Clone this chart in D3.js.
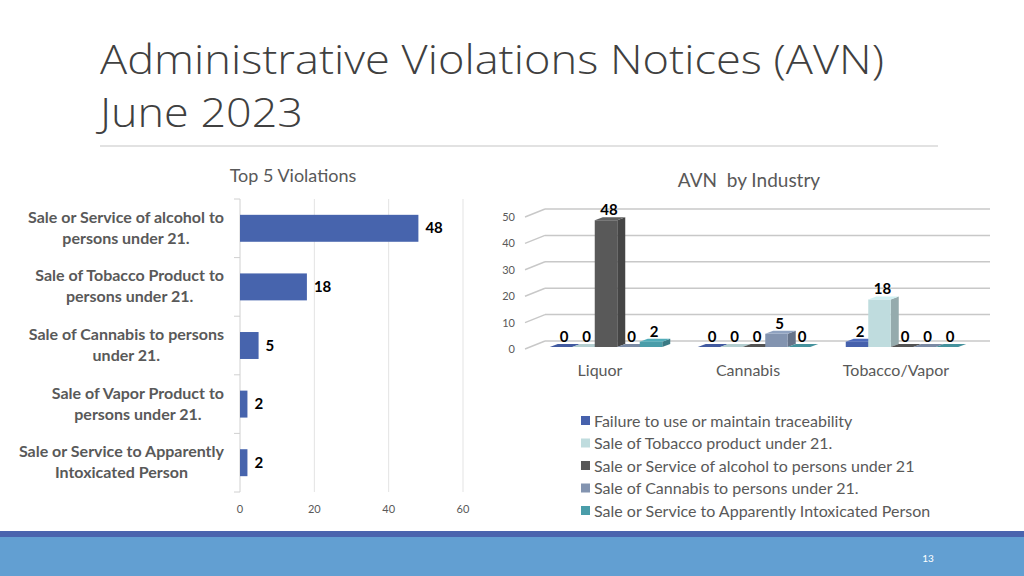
<!DOCTYPE html>
<html><head><meta charset="utf-8">
<script src="https://cdn.jsdelivr.net/npm/d3@7"></script>
<style>
html,body{margin:0;padding:0;background:#fff;}
svg{display:block;}
text{font-family:Lato,"Open Sans",sans-serif;}
.ttl{font-family:"Open Sans",sans-serif;font-variant-ligatures:none;}
</style></head>
<body>
<svg id="c" width="1024" height="576"></svg>
<script>
// ---------- data ----------
const titleLines = ["Administrative Violations Notices (AVN)", "June 2023"];
const pageNumber = "13";

const topTitle = "Top 5 Violations";
const topCategories = [
  ["Sale or Service of alcohol to", "persons under 21."],
  ["Sale of Tobacco Product to", "persons under 21."],
  ["Sale of Cannabis to persons", "under 21."],
  ["Sale of Vapor Product to", "persons under 21."],
  ["Sale or Service to Apparently", "Intoxicated Person"]
];
const topValues = [48, 18, 5, 2, 2];
const topTicks = [0, 20, 40, 60];

const indTitle = "AVN  by Industry";
const industries = ["Liquor", "Cannabis", "Tobacco/Vapor"];
const seriesNames = [
  "Failure to use or maintain traceability",
  "Sale of Tobacco product under 21.",
  "Sale or Service of alcohol to persons under 21",
  "Sale of Cannabis to persons under 21.",
  "Sale or Service to Apparently Intoxicated Person"
];
const seriesValues = [
  [0, 0, 2],
  [0, 0, 18],
  [48, 0, 0],
  [0, 5, 0],
  [2, 0, 0]
];
const indTicks = [0, 10, 20, 30, 40, 50];
const seriesColors = ["#4661AC", "#BFDCDE", "#595959", "#8394B0", "#4A9DA9"];

// ---------- drawing ----------
const svg = d3.select("#c");
const grey = "#595959";

// title
svg.append("text").attr("class", "ttl").attr("x", 100).attr("y", 74)
  .attr("font-weight", 300)
  .attr("font-size", 41).attr("fill", "#404040")
  .attr("textLength", 784).attr("lengthAdjust", "spacingAndGlyphs")
  .text(titleLines[0]);
svg.append("text").attr("class", "ttl").attr("x", 100).attr("y", 127)
  .attr("font-weight", 300)
  .attr("font-size", 41).attr("fill", "#404040")
  .attr("textLength", 203).attr("lengthAdjust", "spacingAndGlyphs")
  .text(titleLines[1]);
svg.append("line").attr("x1", 100).attr("x2", 938).attr("y1", 146).attr("y2", 146)
  .attr("stroke", "#D9D9D9").attr("stroke-width", 1.5);

// bottom band
svg.append("rect").attr("x", 0).attr("y", 537).attr("width", 1024).attr("height", 39).attr("fill", "#629FD2");
svg.append("rect").attr("x", 0).attr("y", 531).attr("width", 1024).attr("height", 6).attr("fill", "#4A64AE");
svg.append("text").attr("x", 928).attr("y", 562).attr("text-anchor", "middle")
  .attr("font-size", 10).attr("fill", "#fff").text(pageNumber);

// ---------- left chart ----------
const L = svg.append("g");
L.append("text").attr("x", 293).attr("y", 182).attr("text-anchor", "middle")
  .attr("font-size", 18).attr("fill", grey).text(topTitle);

const xL = d3.scaleLinear().domain([0, 60]).range([240, 463]);
const yL = d3.scaleBand().domain(d3.range(topValues.length)).range([199, 492])
  .paddingInner(0.54).paddingOuter(0.27);

// gridlines
L.selectAll("line.grid").data(topTicks.slice(1)).join("line")
  .attr("x1", d => xL(d)).attr("x2", d => xL(d)).attr("y1", 199).attr("y2", 492)
  .attr("stroke", "#E3E3E3").attr("stroke-width", 1);
// axis line + category ticks
const stepL = yL.step();
L.append("line").attr("x1", 240).attr("x2", 240).attr("y1", 199).attr("y2", 492)
  .attr("stroke", "#D0D0D0").attr("stroke-width", 1);
L.selectAll("line.ct").data(d3.range(topValues.length + 1)).join("line")
  .attr("x1", 234).attr("x2", 240)
  .attr("y1", i => 199 + i * stepL).attr("y2", i => 199 + i * stepL)
  .attr("stroke", "#D0D0D0").attr("stroke-width", 1);

// bars
L.selectAll("rect.bar").data(topValues).join("rect")
  .attr("x", xL(0)).attr("y", (d, i) => yL(i))
  .attr("width", d => xL(d) - xL(0)).attr("height", yL.bandwidth())
  .attr("fill", "#4764AD");
// value labels
L.selectAll("text.val").data(topValues).join("text")
  .attr("x", d => xL(d) + 7).attr("y", (d, i) => yL(i) + yL.bandwidth() / 2 + 5)
  .attr("font-size", 15).attr("font-weight", 700).attr("fill", "#000").text(d => d);
// x tick labels
L.selectAll("text.tick").data(topTicks).join("text")
  .attr("x", d => xL(d)).attr("y", 513).attr("text-anchor", "middle")
  .attr("font-size", 11).attr("fill", grey).text(d => d);
// category labels (centered block, longest line right-aligned to x=224)
topCategories.forEach((lines, i) => {
  const g = L.append("g");
  const cy = yL(i) + yL.bandwidth() / 2;
  const ts = lines.map((s, k) => g.append("text")
    .attr("y", cy + (k === 0 ? -10.5 : 10.5) + 5)
    .attr("font-size", 16).attr("font-weight", 700).attr("fill", grey)
    .attr("text-anchor", "middle").text(s));
  const w = d3.max(ts, t => t.node().getComputedTextLength());
  ts.forEach(t => t.attr("x", 224 - w / 2));
});

// ---------- right chart (3D columns) ----------
const R = svg.append("g");
R.append("text").attr("x", 749).attr("y", 187).attr("text-anchor", "middle")
  .style("white-space", "pre")
  .attr("font-size", 19).attr("fill", grey).text(indTitle);

const yBack = d3.scaleLinear().domain([0, 50]).range([341, 209]);
const wallX0 = 545, wallX1 = 990, floorDX = 20, floorDY = 8;
// grid: back wall horizontals + side-wall diagonals
indTicks.forEach(t => {
  const y = yBack(t);
  R.append("line").attr("x1", wallX0).attr("x2", wallX1).attr("y1", y).attr("y2", y)
    .attr("stroke", "#C8C8C8").attr("stroke-width", 1.5);
  R.append("line").attr("x1", wallX0 - floorDX).attr("x2", wallX0)
    .attr("y1", y + floorDY).attr("y2", y)
    .attr("stroke", "#C8C8C8").attr("stroke-width", 1.5);
  R.append("text").attr("x", 515).attr("y", y + floorDY + 4).attr("text-anchor", "end")
    .attr("font-size", 11).attr("fill", grey).text(t);
});

const x0 = d3.scaleBand().domain(industries).range([532, 976]).paddingInner(0.24).paddingOuter(0.12);
const x1 = d3.scaleBand().domain(d3.range(seriesNames.length)).range([0, x0.bandwidth()]);
const yFront = v => yBack(v) + 6;
const dX = 8, dY = 3;

industries.forEach((ind, ci) => {
  seriesNames.forEach((s, si) => {
    const v = seriesValues[si][ci];
    const c = d3.color(seriesColors[si]);
    const xa = x0(ind) + x1(si), xb = xa + x1.bandwidth();
    const yb = yFront(0), yt = yFront(v);
    const g = R.append("g");
    if (v > 0) {
      g.append("path").attr("d", `M${xb},${yt}L${xb + dX},${yt - dY}L${xb + dX},${yb - dY}L${xb},${yb}Z`)
        .attr("fill", c.darker(0.7));
      g.append("path").attr("d", `M${xa},${yt}L${xb},${yt}L${xb},${yb}L${xa},${yb}Z`).attr("fill", c);
    }
    g.append("path").attr("d", `M${xa},${yt}L${xb},${yt}L${xb + dX},${yt - dY}L${xa + dX},${yt - dY}Z`)
      .attr("fill", v > 0 ? c.brighter(0.25) : c.darker(0.2));
    R.append("text").attr("x", (xa + xb) / 2 + 3).attr("y", yt - 5)
      .attr("text-anchor", "middle").attr("font-size", 15).attr("font-weight", 700)
      .attr("fill", "#000").text(v);
  });
  R.append("text").attr("x", x0(ind) + x0.bandwidth() / 2 - 6).attr("y", 376)
    .attr("text-anchor", "middle").attr("font-size", 16).attr("fill", grey).text(ind);
});

// legend
const leg = R.append("g");
seriesNames.forEach((s, i) => {
  const y = 421 + i * 22.5;
  leg.append("rect").attr("x", 581).attr("y", y - 5).attr("width", 9).attr("height", 9)
    .attr("fill", seriesColors[i]);
  leg.append("text").attr("x", 594).attr("y", y + 5.5).attr("font-size", 16).attr("fill", grey).text(s);
});
</script>
</body></html>
